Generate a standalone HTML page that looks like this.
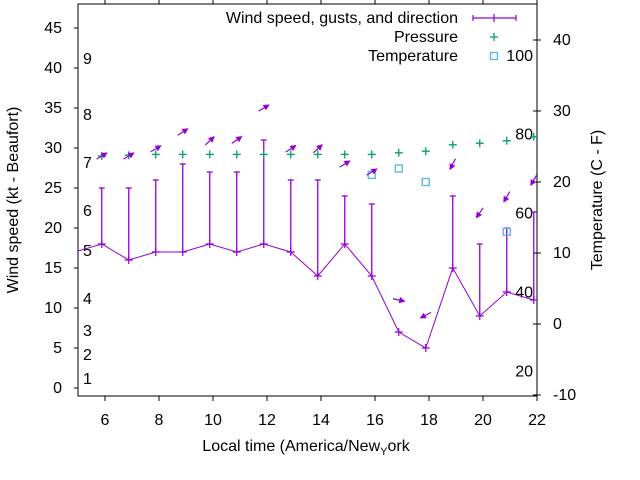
<!DOCTYPE html>
<html><head><meta charset="utf-8">
<style>
html,body{margin:0;padding:0;background:#fff;}
svg{display:block;font-family:"Liberation Sans",Arial,sans-serif;}
</style></head>
<body>
<svg id="chart" width="640" height="480" viewBox="0 0 640 480" xmlns="http://www.w3.org/2000/svg">
<defs><clipPath id="plotclip"><rect x="78" y="4" width="459" height="392"/></clipPath></defs>
<g id="axes"></g>
<g id="marks" clip-path="url(#plotclip)"></g>
<g id="legend"></g>
<text x="0" y="0" transform="translate(18,200) rotate(-90)" text-anchor="middle" font-size="16">Wind speed (kt - Beaufort)</text>
<text x="0" y="0" transform="translate(602,200) rotate(-90)" text-anchor="middle" font-size="16">Temperature (C - F)</text>
<text x="306" y="451" text-anchor="middle" font-size="16">Local time (America/New<tspan dy="4" font-size="11">Y</tspan><tspan dy="-4">ork</tspan></text>
</svg>
<script>
const hours = [4.88,5.88,6.88,7.88,8.88,9.88,10.88,11.88,12.88,13.88,14.88,15.88,16.88,17.88,18.88,19.88,20.88,21.88];
const windKt = [17,18,16,17,17,18,17,18,17,14,18,14,7,5,15,9,12,11];
const gustKt = [null,25,25,26,28,27,27,31,26,26,24,23,null,null,24,18,20,22];
const pressure = [null,29.0,29.1,29.2,29.2,29.2,29.2,29.2,29.2,29.2,29.2,29.2,29.4,29.6,30.4,30.6,30.9,31.4];
const arrowY = [null,29.0,29.0,29.9,32.0,30.9,31.0,35.0,29.9,29.9,28.0,27.0,11.0,9.1,28.0,21.9,23.9,26.0];
const arrowDeg = [null,31,31,31,33,43,34,31,33,42,31,31,-12,208,243,236,240,240];
const tempHours = [15.88,16.88,17.88,20.88];
const tempC = [21.0,21.9,20.0,13.0];
const xTicks = [6,8,10,12,14,16,18,20,22];
const yTicks = [0,5,10,15,20,25,30,35,40,45];
const y2Ticks = [-10,0,10,20,30,40];
const beaufortLabels = ["1","2","3","4","5","6","7","8","9"];
const beaufortAt = [1.1,4.1,7.1,11.1,17.1,22.1,28.1,34.1,41.1];
const fahrLabels = ["20","40","60","80","100"];
const fahrC = [-6.67,4.44,15.56,26.67,37.78];

const X0=78, X1=537, Y0=396, Y1=4;
const xs = h => X0 + (h-5)*27;
const ys = v => 388 - v*8;
const y2s = c => 324 - c*7.1;
const NS="http://www.w3.org/2000/svg";
const PURPLE="#9400d3", GREEN="#009e73", BLUE="#56b4e9";
const FS=16;
function mk(tag, attrs, parent){const e=document.createElementNS(NS,tag);for(const k in attrs)e.setAttribute(k,attrs[k]);parent.appendChild(e);return e;}
const axes=document.getElementById('axes'), marks=document.getElementById('marks'), legend=document.getElementById('legend');

const fr = mk('rect',{x:X0,y:Y1,width:X1-X0,height:Y0-Y1,fill:'none',stroke:'#000','stroke-width':1},axes);


xTicks.forEach(t=>{
  const x=xs(t);
  const l=mk('line',{x1:x,y1:Y0,x2:x,y2:Y0+5,stroke:'#000'},axes);
  
  
  const l2=mk('line',{x1:x,y1:Y1,x2:x,y2:Y1-4,stroke:'#000'},axes);
  
  
  const tx=mk('text',{x:x,y:425,'text-anchor':'middle','font-size':FS},axes);
  tx.textContent=t;
  
  
});
yTicks.forEach(t=>{
  const y=ys(t);
  const l=mk('line',{x1:X0-4,y1:y,x2:X0,y2:y,stroke:'#000'},axes);
  
  
  const tx=mk('text',{x:62,y:y+5,'text-anchor':'end','font-size':FS},axes);
  tx.textContent=t;
  
  
});
y2Ticks.forEach(t=>{
  const y=y2s(t);
  const l=mk('line',{x1:X1-4,y1:y,x2:X1+4,y2:y,stroke:'#000'},axes);
  
  
  const tx=mk('text',{x:553,y:y+5,'text-anchor':'start','font-size':FS},axes);
  tx.textContent=t;
  
  
});
beaufortLabels.forEach((s,i)=>{
  const tx=mk('text',{x:83,y:ys(beaufortAt[i])+5,'font-size':FS},axes);
  tx.textContent=s;
  
  
});
fahrLabels.forEach((s,i)=>{
  const tx=mk('text',{x:533,y:y2s(fahrC[i])+5,'text-anchor':'end','font-size':FS},axes);
  tx.textContent=s;
  
  
});

hours.forEach((h,i)=>{
  if(gustKt[i]==null) return;
  const x=xs(h);
  const b=mk('line',{x1:x,y1:ys(windKt[i]),x2:x,y2:ys(gustKt[i]),stroke:PURPLE,'stroke-width':1.3},marks);
  
  
  const c=mk('line',{x1:x-3,y1:ys(gustKt[i]),x2:x+3,y2:ys(gustKt[i]),stroke:PURPLE,'stroke-width':1.3},marks);
  
  
});
const pts=hours.map((h,i)=>xs(h)+','+ys(windKt[i])).join(' ');
const wl=mk('polyline',{points:pts,fill:'none',stroke:PURPLE,'stroke-width':1},marks);


hours.forEach((h,i)=>{
  const x=xs(h), y=ys(windKt[i]);
  const p=mk('path',{d:`M${x-4},${y}H${x+4}M${x},${y-4}V${y+4}`,stroke:PURPLE,'stroke-width':1.2},marks);
  
  
});
hours.forEach((h,i)=>{
  if(pressure[i]==null) return;
  const x=xs(h), y=ys(pressure[i]);
  const p=mk('path',{d:`M${x-4},${y}H${x+4}M${x},${y-4}V${y+4}`,stroke:GREEN,'stroke-width':1.3},marks);
  
  
});
tempHours.forEach((h,i)=>{
  const x=xs(h), y=y2s(tempC[i]);
  const r=mk('rect',{x:x-3.5,y:y-3.5,width:7,height:7,fill:'none',stroke:BLUE,'stroke-width':1.3},marks);
  
  
});
hours.forEach((h,i)=>{
  if(arrowY[i]==null) return;
  const cx=xs(h), cy=ys(arrowY[i]);
  const a=arrowDeg[i]*Math.PI/180, L=6;
  const dx=Math.cos(a)*L, dy=-Math.sin(a)*L;
  const tx=cx-dx, ty=cy-dy, hx=cx+dx, hy=cy+dy;
  const ux=dx/L, uy=dy/L;
  const bx=hx-ux*5, by=hy-uy*5;
  const g=mk('g',{},marks);
  
  
  mk('line',{x1:tx,y1:ty,x2:hx,y2:hy,stroke:PURPLE,'stroke-width':1.2},g);
  mk('polygon',{points:`${hx},${hy} ${bx-uy*2.5},${by+ux*2.5} ${bx+uy*2.5},${by-ux*2.5}`,fill:PURPLE,stroke:PURPLE,'stroke-width':0.8},g);
});

const lt=[["Wind speed, gusts, and direction",23],["Pressure",42],["Temperature",61]];
lt.forEach(([s,y])=>{
  const t=mk('text',{x:458,y:y,'text-anchor':'end','font-size':FS},legend);
  t.textContent=s;
  
  
});
const lw=mk('path',{d:'M473,18H516M473,15V21M516,15V21M494,14V22',stroke:PURPLE,'stroke-width':1.2,fill:'none'},legend);


const lp=mk('path',{d:'M490,37H498M494,33V41',stroke:GREEN,'stroke-width':1.3},legend);


const lq=mk('rect',{x:490.5,y:52.5,width:7,height:7,fill:'none',stroke:BLUE,'stroke-width':1.3},legend);


</script>
</body></html>
